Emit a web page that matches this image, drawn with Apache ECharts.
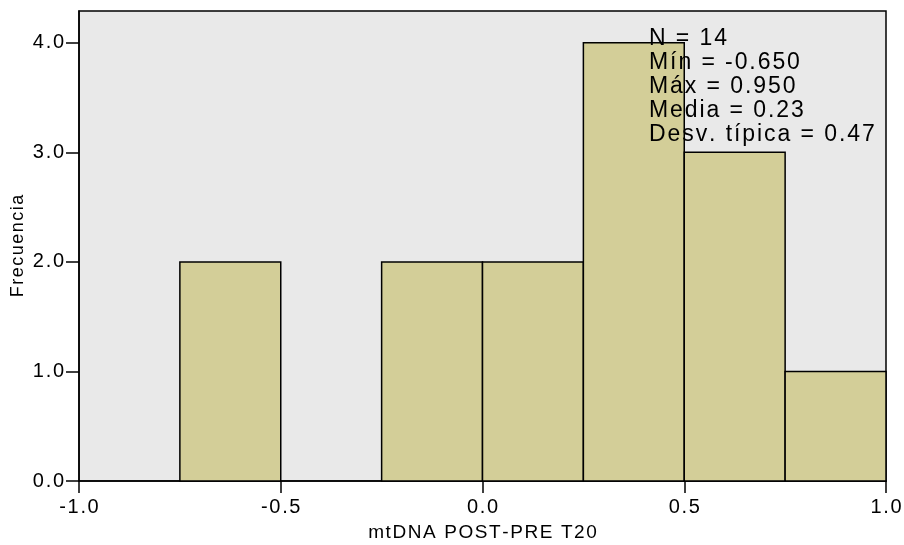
<!DOCTYPE html>
<html><head><meta charset="utf-8">
<script src="https://cdn.jsdelivr.net/npm/echarts@6/dist/echarts.min.js"></script>
<style>html,body{margin:0;padding:0;background:#fff}#c{width:904px;height:545px}</style>
</head><body><div id="c"></div>
<script>
const binStarts = [-0.75, -0.25, 0.0, 0.25, 0.5, 0.75];
const binWidth = 0.25;
const counts = [2, 2, 2, 4, 3, 1];
const xTicks = [-1.0, -0.5, 0.0, 0.5, 1.0];
const yTicks = [0, 1, 2, 3, 4];
const statsLines = ['N = 14', 'Mín = -0.650', 'Máx = 0.950', 'Media = 0.23', 'Desv. típica = 0.47'];

const data = binStarts.map((s, i) => [s, s + binWidth, counts[i]]);
const font = '"Liberation Sans", Arial, sans-serif';
const sp = s => s.split('').join('\u200A');

const chart = echarts.init(document.getElementById('c'), null, {renderer: 'canvas'});
chart.setOption({
  animation: false,
  grid: {left: 79, right: 18, top: 11, bottom: 64, outerBoundsMode: 'none', containLabel: false,
    show: true, backgroundColor: '#e9e9e9', borderColor: '#000', borderWidth: 1.5},
  xAxis: {
    type: 'value', min: -1, max: 1, interval: 0.5,
    name: sp('mtDNA POST-PRE T20'), nameLocation: 'middle', nameGap: 42, nameMoveOverlap: false,
    nameTextStyle: {fontFamily: font, fontSize: 19, color: '#000'},
    axisLine: {show: true, onZero: false, lineStyle: {color: '#000', width: 1.5}},
    axisTick: {show: true, inside: false, length: 12, customValues: xTicks, lineStyle: {color: '#000', width: 1.5}},
    axisLabel: {fontFamily: font, fontSize: 20, color: '#000', margin: 16, customValues: xTicks,
      formatter: v => sp(v.toFixed(1))},
    splitLine: {show: false}
  },
  yAxis: {
    type: 'value', min: 0, max: 4.29, interval: 1,
    name: sp('Frecuencia'), nameLocation: 'middle', nameGap: 52, nameRotate: 90, nameMoveOverlap: false,
    nameTextStyle: {fontFamily: font, fontSize: 18, color: '#000'},
    axisLine: {show: true, onZero: false, lineStyle: {color: '#000', width: 1.5}},
    axisTick: {show: true, inside: false, length: 13, customValues: yTicks, lineStyle: {color: '#000', width: 1.5}},
    axisLabel: {fontFamily: font, fontSize: 20, color: '#000', margin: 15, customValues: yTicks,
      formatter: v => sp(v.toFixed(1))},
    splitLine: {show: false}
  },
  series: [{
    type: 'custom',
    data: data,
    encode: {x: [0, 1], y: 2},
    renderItem: function (params, api) {
      const p0 = api.coord([api.value(0), 0]);
      const p1 = api.coord([api.value(1), api.value(2)]);
      return {
        type: 'rect',
        shape: {x: p0[0], y: p1[1], width: p1[0] - p0[0], height: p0[1] - p1[1]},
        style: {fill: '#d3ce98', stroke: '#000', lineWidth: 1.5}
      };
    },
    z: 2
  }],
  graphic: [{
    type: 'text', left: 649, top: 27, z: 100,
    style: {text: statsLines.map(sp).join('\n'), font: '23px ' + font, fill: '#000', lineHeight: 24}
  }]
});
</script></body></html>
